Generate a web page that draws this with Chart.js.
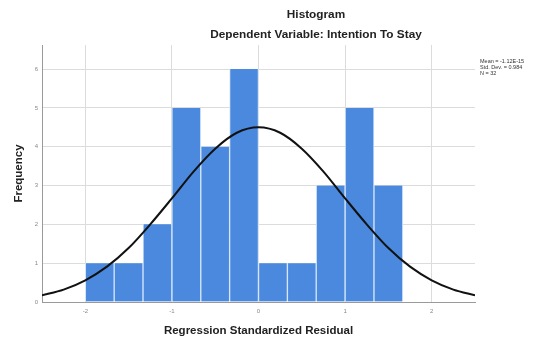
<!DOCTYPE html>
<html>
<head>
<meta charset="utf-8">
<script src="https://cdn.jsdelivr.net/npm/chart.js@4"></script>
<style>
  body { margin: 0; background: #fff; }
  #wrap { position: relative; width: 539px; height: 338px; overflow: hidden; }
  .txt { position: absolute; font-family: "Liberation Sans", Arial, sans-serif; color: #222; white-space: nowrap; }
  .ttl { font-weight: bold; font-size: 11.8px; transform: translateX(-50%); }
  #stats { left: 480px; top: 58px; font-size: 5.5px; line-height: 6px; color: #333; }
</style>
</head>
<body>
<div id="wrap">
  <canvas id="histChart" width="539" height="338"></canvas>
  <div class="txt ttl" style="left:316px; top:7px;">Histogram</div>
  <div class="txt ttl" style="left:316px; top:27px;">Dependent Variable: Intention To Stay</div>
  <div class="txt" id="stats">Mean = -1.12E-15<br>Std. Dev. = 0.984<br>N = 32</div>
</div>
<script>
// histogram bins (bin midpoints, width 1/3) and counts
const binMids = [-1.833, -1.5, -1.167, -0.833, -0.5, -0.167, 0.167, 0.5, 0.833, 1.167, 1.5];
const counts = [1, 1, 2, 5, 4, 6, 1, 1, 3, 5, 3];

// normal curve
const curveX = [-2.5, -2.25, -2, -1.75, -1.5, -1.25, -1, -0.75, -0.5, -0.25, 0,
                0.25, 0.5, 0.75, 1, 1.25, 1.5, 1.75, 2, 2.25, 2.5];
const curveY = [0.17, 0.32, 0.56, 0.91, 1.39, 2.0, 2.67, 3.36, 3.95, 4.36, 4.5,
                4.36, 3.95, 3.36, 2.67, 2.0, 1.39, 0.91, 0.56, 0.32, 0.17];

const xTicks = [-2, -1, 0, 1, 2];
const yTicks = [0, 1, 2, 3, 4, 5, 6];

const tickFont = { family: 'Liberation Sans', size: 6 };
const titleFont = { family: 'Liberation Sans', size: 11.5, weight: 'bold' };

const ctx = document.getElementById('histChart').getContext('2d');
new Chart(ctx, {
    type: 'bar',
    data: {
        datasets: [
            {
                type: 'line',
                data: curveX.map((x, i) => ({ x: x, y: curveY[i] })),
                borderColor: '#111',
                borderWidth: 2,
                pointRadius: 0,
                tension: 0.4,
                cubicInterpolationMode: 'monotone',
                order: 0
            },
            {
                type: 'bar',
                data: binMids.map((x, i) => ({ x: x, y: counts[i] })),
                backgroundColor: '#4a89de',
                borderColor: '#d6e6fa',
                borderWidth: { left: 1, right: 1, top: 0, bottom: 0 },
                borderSkipped: false,
                barPercentage: 1,
                categoryPercentage: 1,
                order: 1
            }
        ]
    },
    options: {
        responsive: false,
        animation: false,
        layout: { padding: { left: 0, top: 45, right: 64, bottom: 0 } },
        plugins: {
            legend: { display: false },
            tooltip: { enabled: false }
        },
        scales: {
            x: {
                type: 'linear',
                min: -2.5,
                max: 2.5,
                offset: false,
                grid: { color: '#dcdcdc', offset: false, drawTicks: false },
                border: { color: '#9a9a9a' },
                ticks: { color: '#888', font: tickFont, padding: 6 },
                afterBuildTicks: s => { s.ticks = xTicks.map(v => ({ value: v })); },
                afterFit: s => { s.height = 36; },
                title: {
                    display: true,
                    text: 'Regression Standardized Residual',
                    color: '#222',
                    font: titleFont,
                    padding: { top: 3, bottom: 0 }
                }
            },
            y: {
                min: 0,
                max: 6.62,
                grid: { color: '#dcdcdc', drawTicks: false },
                border: { color: '#9a9a9a' },
                ticks: { color: '#888', font: tickFont, padding: 4 },
                afterBuildTicks: s => { s.ticks = yTicks.map(v => ({ value: v })); },
                afterFit: s => { s.width = 42; },
                title: {
                    display: true,
                    text: 'Frequency',
                    color: '#222',
                    font: titleFont,
                    padding: { top: 12, bottom: 0 }
                }
            }
        }
    }
});
</script>
</body>
</html>
